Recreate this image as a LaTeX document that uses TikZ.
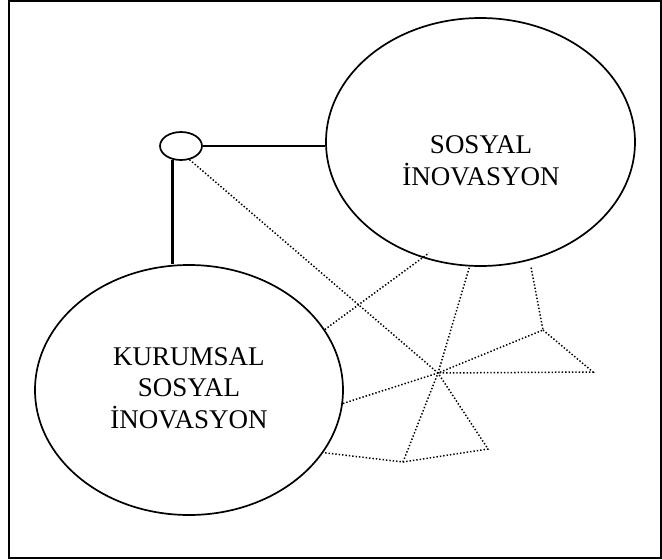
\documentclass[tikz,border=0pt]{standalone}
\usepackage{fontspec}
\setmainfont{Liberation Serif}
\usetikzlibrary{shapes.geometric}
\begin{document}
\begin{tikzpicture}[x=1pt,y=-1pt,
  bigoval/.style={draw,ellipse,line width=1.7pt,inner sep=0pt},
  smalloval/.style={draw,ellipse,line width=1.7pt,inner sep=0pt,minimum width=42pt,minimum height=28pt},
  solidlink/.style={line width=2.3pt},
  dotlink/.style={line width=1.5pt,dash pattern=on 1.4pt off 2.0pt},
  caption/.style={align=center,font=\fontsize{27}{31.5}\selectfont,inner sep=0pt}]
  \useasboundingbox (0,0) rectangle (662,560);
  % outer frame
  \draw[line width=1.3pt] (9,1) rectangle (661,558);

  % the three ovals
  \node[bigoval,minimum width=309pt,minimum height=248pt] (sosyal) at (480.5,142) {};
  \node[bigoval,minimum width=308pt,minimum height=250pt] (kurumsal) at (189,390) {};
  \node[smalloval] (small) at (181,146) {};

  \node[caption] (sosyaltxt) at (481,161) {SOSYAL\\İNOVASYON};
  \node[caption] (kurumsaltxt) at (189,388) {KURUMSAL\\SOSYAL\\İNOVASYON};

  % solid connectors
  \draw[solidlink] (small.east) -- (small.east -| sosyal.west);
  \draw[solidlink] (small.238) -- (small.238 |- kurumsal.north);

  % dotted web
  \coordinate (hub) at (438,373);
  \coordinate (b1) at (488,449);
  \coordinate (b2) at (403,462);
  \coordinate (p) at (543,330);
  \coordinate (r) at (593,372);
  \coordinate (t1) at (531,267);
  \coordinate (t3) at (429,253);

  \draw[dotlink] (small.-58) -- (hub) -- (b1) -- (b2) -- (kurumsal.-25);
  \draw[dotlink] (b2) -- (hub) -- (sosyal.265);
  \draw[dotlink] (kurumsal.-5) -- (hub) -- (p) -- (t1);
  \draw[dotlink] (p) -- (r) -- (hub);
  \draw[dotlink] (kurumsal.24) -- (t3);
\end{tikzpicture}
\end{document}
